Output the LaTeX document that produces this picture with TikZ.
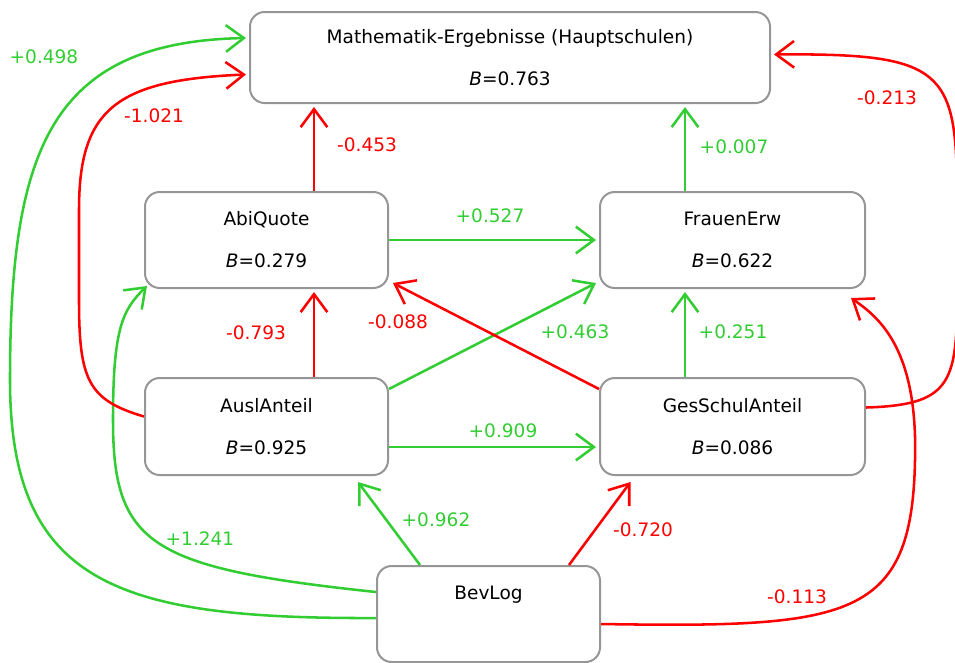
\documentclass[tikz,border=0pt]{standalone}
\usepackage{fontspec}
\setmainfont{DejaVu Sans}
\usetikzlibrary{arrows.meta,calc}
\definecolor{boxgray}{RGB}{150,150,150}
\definecolor{grn}{RGB}{50,205,50}
\definecolor{rd}{RGB}{255,0,0}
\newcommand\diagfont{\fontsize{13.9pt}{16.7pt}\selectfont}

\begin{document}
\begin{tikzpicture}[
    x=0.75pt, y=-0.75pt,
    box/.style={draw=boxgray, line width=1.5pt, rounded corners=11pt,
      align=center, inner sep=0pt, font=\diagfont},
    gedge/.style={draw=grn, line width=1.9pt,
      -{Straight Barb[length=13.5pt,width=20pt]}},
    redge/.style={gedge, draw=rd},
    glbl/.style={text=grn, font=\diagfont},
    rlbl/.style={text=rd, font=\diagfont}]
  \useasboundingbox (0,0) rectangle (955,662);

  \node[box, minimum width=390pt, minimum height=68.25pt] (mat) at (510,57.5)
    {Mathematik-Ergebnisse (Hauptschulen)\\[14.8pt]\textit{B}=0.763};
  \node[box, minimum width=182.25pt, minimum height=72pt] (abi) at (266.5,240)
    {AbiQuote\\[14.8pt]\textit{B}=0.279};
  \node[box, minimum width=198.75pt, minimum height=72pt] (frau) at (732.5,240)
    {FrauenErw\\[14.8pt]\textit{B}=0.622};
  \node[box, minimum width=182.25pt, minimum height=72.75pt] (ausl) at (266.5,426.5)
    {AuslAnteil\\[14.8pt]\textit{B}=0.925};
  \node[box, minimum width=198.75pt, minimum height=72.75pt] (ges) at (732.5,426.5)
    {GesSchulAnteil\\[14.8pt]\textit{B}=0.086};
  \node[box, minimum width=167.25pt, minimum height=72pt] (bev) at (488.5,614)
    {BevLog\\[14.8pt]\phantom{\textit{B}=0.000}};

  \draw[redge] ($(abi.north)+(47.5,0)$) -- ($(mat.south)+(-196,3)$);
  \draw[gedge] ($(frau.north)+(-47.5,0)$) -- ($(mat.south)+(175,3)$);
  \draw[gedge] (abi.east) -- ($(frau.west)+(-3,0)$);
  \draw[redge] ($(ausl.north)+(47.5,0)$) -- ($(abi.south)+(47.5,3)$);
  \draw[gedge] ($(ges.north)+(-47.5,0)$) -- ($(frau.south)+(-47.5,3)$);
  \draw[gedge] ($(ausl.east)+(0,-37.5)$) -- ($(frau.south west)+(-3,-6)$);
  \draw[redge] ($(ges.west)+(0,-37.5)$) -- ($(abi.south east)+(4,-6)$);
  \draw[gedge] ($(ausl.east)+(0,20.5)$) -- ($(ges.west)+(-3,20.5)$);
  \draw[gedge] ($(bev.north)+(-68.5,0)$) -- ($(ausl.south)+(91.5,6)$);
  \draw[redge] ($(bev.north)+(80.5,0)$) -- ($(ges.south)+(-102,6)$);

  \draw[gedge] ($(bev.north west)+(0,27)$) .. controls (150,568) and (113,545)
    .. (113,420) .. controls (113,330) and (122,310) .. ($(abi.south west)+(3,-3)$);
  \draw[gedge] ($(bev.north west)+(0,53)$) .. controls (120,619) and (10,585)
    .. (10,380) .. controls (10,150) and (50,42) .. ($(mat.west)+(-3,-19.5)$);
  \draw[redge] ($(ausl.west)+(0,-10)$) .. controls (88,400) and (79,380)
    .. (79,300) -- (79,210) .. controls (79,110) and (115,80) .. ($(mat.west)+(-3,17)$);
  \draw[redge] ($(ges.east)+(0,-19)$) .. controls (948,405) and (957,385)
    .. (957,300) -- (957,200) .. controls (957,70) and (945,53) .. ($(mat.east)+(3,-3)$);
  \draw[redge] ($(bev.east)+(0,10)$) .. controls (850,628) and (912,620)
    .. (915,460) .. controls (918,350) and (880,318) .. ($(frau.south east)+(-15,9)$);

  \node[glbl] (l498) at (44,57) {+0.498};
  \node[rlbl] (l1021) at (154,116) {-1.021};
  \node[rlbl] (l453) at (367,145) {-0.453};
  \node[glbl] (l007) at (734,147) {+0.007};
  \node[rlbl] (l213) at (887,98) {-0.213};
  \node[glbl] (l527) at (490,216) {+0.527};
  \node[rlbl] (l793) at (256,333) {-0.793};
  \node[rlbl] (l088) at (398,322) {-0.088};
  \node[glbl] (l463) at (575,332) {+0.463};
  \node[glbl] (l251) at (733,332) {+0.251};
  \node[glbl] (l909) at (503,431) {+0.909};
  \node[glbl] (l962) at (436,520) {+0.962};
  \node[rlbl] (l720) at (643,530) {-0.720};
  \node[glbl] (l1241) at (200,539) {+1.241};
  \node[rlbl] (l113) at (797,597) {-0.113};
\end{tikzpicture}
\end{document}
